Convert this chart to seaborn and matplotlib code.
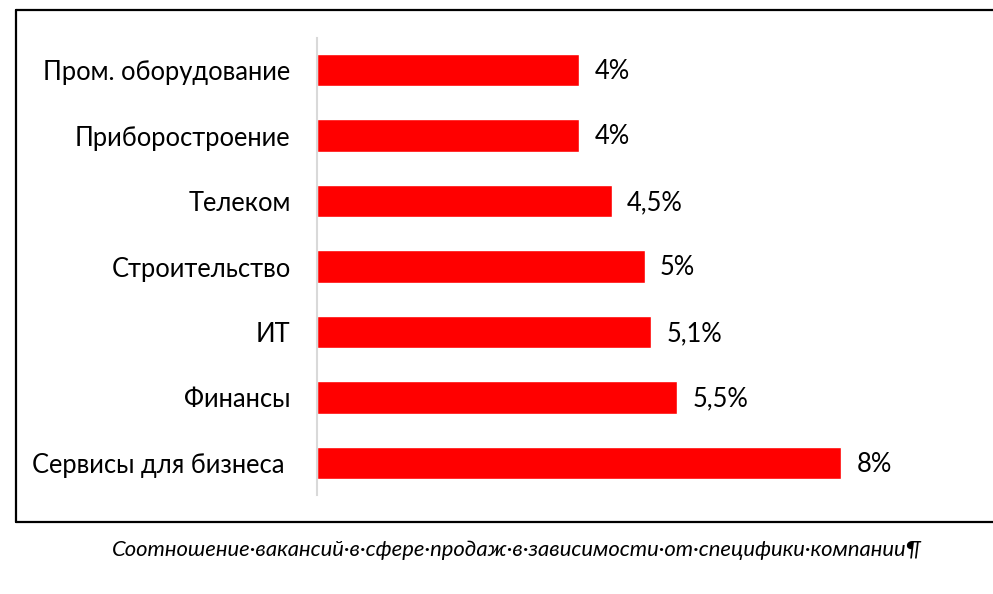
import pandas as pd
import seaborn as sns
import matplotlib.pyplot as plt
from matplotlib.lines import Line2D

# данные с картинки
отрасли = ['Пром. оборудование', 'Приборостроение', 'Телеком', 'Строительство',
           'ИТ', 'Финансы', 'Сервисы для бизнеса ']
доли = [4, 4, 4.5, 5, 5.1, 5.5, 8]
подписи = ['4%', '4%', '4,5%', '5%', '5,1%', '5,5%', '8%']
подпись_рисунка = 'Соотношение·вакансий·в·сфере·продаж·в·зависимости·от·специфики·компании¶'

df = pd.DataFrame({'отрасль': отрасли, 'доля': доли})

sns.set_theme(style='white')
plt.rcParams['font.family'] = ['Lato', 'DejaVu Sans']
plt.rcParams['text.color'] = 'black'
plt.rcParams['ytick.color'] = 'black'

fig = plt.figure(figsize=(9.93, 5.94), dpi=100)
ax = fig.add_axes([317 / 993, 1 - 495 / 594, (960 - 317) / 993, (495 - 38) / 594])

sns.barplot(data=df, y='отрасль', x='доля', orient='h', color='#ff0000',
            saturation=1, width=0.5, ax=ax)

ax.set_xlim(0, (960 - 317) / 65.5)
ax.set_ylim(6.49, -0.49)
ax.set_xlabel('')
ax.set_ylabel('')
ax.set_xticks([])
ax.tick_params(axis='y', length=0, pad=19, labelsize=18.4, labelcolor='black')
for s in ['top', 'right', 'bottom']:
    ax.spines[s].set_visible(False)
ax.spines['left'].set_color('#d9d9d9')
ax.spines['left'].set_linewidth(1.5)

for i, (v, t) in enumerate(zip(доли, подписи)):
    ax.annotate(t, (v, i), xytext=(11, -1), textcoords='offset points',
                va='center', ha='left', fontsize=18.4, color='black')

# рамка вокруг диаграммы (справа обрезана)
x0, y0, y1 = 16 / 993, 1 - 522 / 594, 1 - 10 / 594
for xs, ys in [([x0, x0], [y0, y1]), ([x0, 1], [y1, y1]), ([x0, 1], [y0, y0])]:
    fig.add_artist(Line2D(xs, ys, color='black', linewidth=1.6, transform=fig.transFigure))

fig.text(517 / 993, 1 - 550 / 594, подпись_рисунка, ha='center', va='center',
         fontsize=15.8, style='italic', color='black')

fig.savefig('out.png', dpi=100)
